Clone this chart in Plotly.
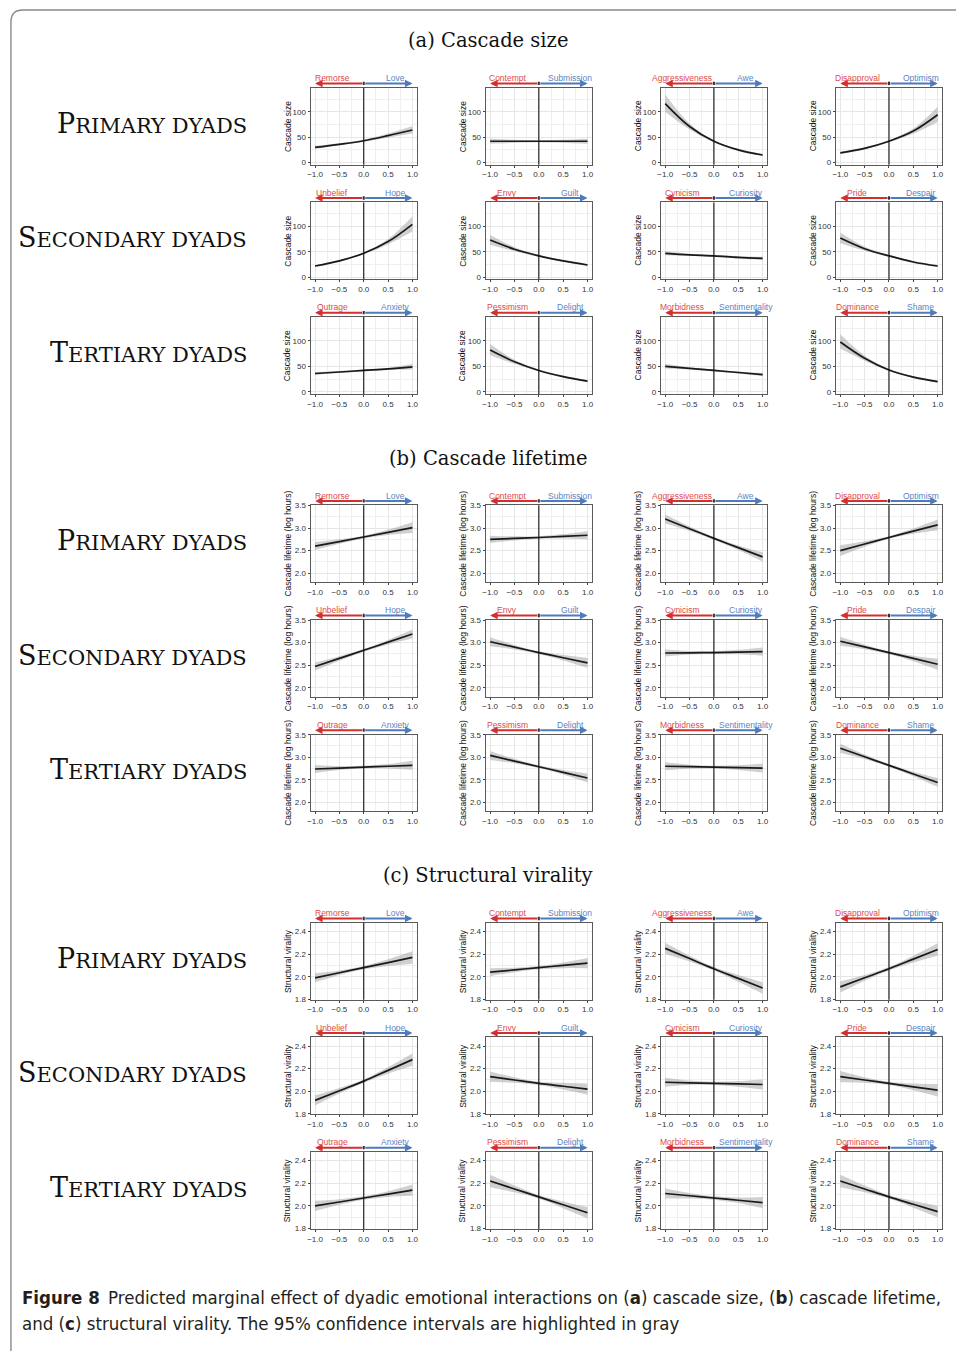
import plotly.graph_objects as go

# ---------------- data ----------------
X_POS = [-1.0, -0.5, 0.0, 0.5, 1.0]
X_TICKS = [-1.0, -0.5, 0.0, 0.5, 1.0]
X_TICK_TEXT = ["\u22121.0", "\u22120.5", "0.0", "0.5", "1.0"]
X_MINOR = [-0.75, -0.25, 0.25, 0.75]

LEFT_EMOTIONS = ["Remorse", "Contempt", "Aggressiveness", "Disapproval",
                 "Unbelief", "Envy", "Cynicism", "Pride",
                 "Outrage", "Pessimism", "Morbidness", "Dominance"]
RIGHT_EMOTIONS = ["Love", "Submission", "Awe", "Optimism",
                  "Hope", "Guilt", "Curiosity", "Despair",
                  "Anxiety", "Delight", "Sentimentality", "Shame"]

ROW_LABELS = [("P", "RIMARY DYADS"), ("S", "ECONDARY DYADS"), ("T", "ERTIARY DYADS")]
SECTION_TITLES = ["(a) Cascade size", "(b) Cascade lifetime", "(c) Structural virality"]
Y_TITLES = ["Cascade size", "Cascade lifetime (log hours)", "Structural virality"]
Y_TICKS = [[0, 50, 100], [2.0, 2.5, 3.0, 3.5], [1.8, 2.0, 2.2, 2.4]]
Y_TICK_TEXT = [["0", "50", "100"], ["2.0", "2.5", "3.0", "3.5"], ["1.8", "2.0", "2.2", "2.4"]]
Y_MINOR = [[25, 75, 125], [2.25, 2.75, 3.25], [1.9, 2.1, 2.3]]
Y_RANGES = [[-4, 147], [1.80, 3.503], [1.797, 2.476]]

# (a) cascade size: fit, lower and upper 95% CI at X_POS
SIZE_FIT = [
    [30, 36, 43, 53, 64], [42, 42, 42, 42, 42], [116, 71, 42, 25, 15], [19, 28, 42, 62, 94],
    [22, 32, 47, 70, 104], [73, 55, 42, 32, 24], [47, 44, 42, 39, 37], [77, 56, 42, 30, 22],
    [36, 39, 42, 45, 49], [82, 59, 42, 30, 21], [50, 46, 42, 38, 34], [98, 66, 43, 29, 20],
]
SIZE_LO = [
    [27, 34, 41, 49, 57], [37, 39, 40, 39, 37], [100, 65, 40, 23, 13], [17, 26, 40, 57, 80],
    [20, 30, 45, 65, 90], [64, 51, 40, 30, 22], [43, 42, 40, 37, 34], [67, 52, 40, 28, 20],
    [33, 37, 40, 43, 44], [72, 55, 40, 28, 19], [46, 44, 40, 36, 31], [85, 61, 41, 27, 18],
]
SIZE_HI = [
    [33, 38, 45, 57, 72], [47, 45, 44, 45, 47], [134, 77, 44, 27, 17], [21, 30, 44, 67, 110],
    [24, 34, 49, 75, 120], [83, 59, 44, 34, 26], [51, 46, 44, 41, 40], [88, 60, 44, 32, 24],
    [39, 41, 44, 47, 55], [94, 63, 44, 32, 23], [55, 48, 44, 40, 37], [113, 71, 45, 31, 22],
]

# (b) cascade lifetime: fit and CI half-width at X_POS
LIFE_FIT = [
    [2.60, 2.70, 2.80, 2.905, 3.01], [2.75, 2.77, 2.79, 2.815, 2.84],
    [3.20, 2.985, 2.77, 2.565, 2.36], [2.50, 2.645, 2.79, 2.93, 3.07],
    [2.47, 2.65, 2.83, 3.01, 3.19], [3.02, 2.90, 2.78, 2.665, 2.55],
    [2.77, 2.775, 2.78, 2.79, 2.80], [3.03, 2.905, 2.78, 2.65, 2.52],
    [2.74, 2.76, 2.78, 2.80, 2.82], [3.04, 2.915, 2.79, 2.665, 2.54],
    [2.80, 2.79, 2.78, 2.77, 2.76], [3.20, 3.01, 2.82, 2.63, 2.44],
]
LIFE_ERR = [
    [0.09, 0.05, 0.03, 0.06, 0.12], [0.08, 0.045, 0.03, 0.05, 0.09],
    [0.10, 0.05, 0.03, 0.05, 0.10], [0.12, 0.06, 0.03, 0.06, 0.12],
    [0.09, 0.05, 0.03, 0.05, 0.10], [0.10, 0.05, 0.03, 0.06, 0.11],
    [0.08, 0.04, 0.03, 0.05, 0.09], [0.10, 0.05, 0.03, 0.06, 0.12],
    [0.09, 0.045, 0.03, 0.05, 0.10], [0.10, 0.05, 0.03, 0.05, 0.10],
    [0.09, 0.045, 0.03, 0.05, 0.10], [0.10, 0.05, 0.03, 0.05, 0.10],
]

# (c) structural virality: fit and CI half-width at X_POS
VIR_FIT = [
    [1.99, 2.035, 2.08, 2.125, 2.17], [2.04, 2.06, 2.08, 2.10, 2.12],
    [2.25, 2.16, 2.07, 1.985, 1.90], [1.91, 1.99, 2.07, 2.155, 2.24],
    [1.92, 2.005, 2.09, 2.185, 2.28], [2.13, 2.10, 2.07, 2.045, 2.02],
    [2.08, 2.075, 2.07, 2.065, 2.06], [2.13, 2.10, 2.07, 2.04, 2.01],
    [2.00, 2.035, 2.07, 2.105, 2.14], [2.22, 2.15, 2.08, 2.01, 1.94],
    [2.11, 2.09, 2.07, 2.05, 2.03], [2.22, 2.15, 2.08, 2.015, 1.95],
]
VIR_ERR = [
    [0.04, 0.02, 0.015, 0.03, 0.055], [0.035, 0.02, 0.015, 0.025, 0.045],
    [0.05, 0.025, 0.015, 0.03, 0.05], [0.05, 0.025, 0.015, 0.03, 0.055],
    [0.045, 0.025, 0.015, 0.03, 0.055], [0.045, 0.025, 0.015, 0.03, 0.05],
    [0.04, 0.02, 0.015, 0.025, 0.045], [0.05, 0.025, 0.015, 0.03, 0.055],
    [0.045, 0.025, 0.015, 0.025, 0.05], [0.055, 0.03, 0.015, 0.03, 0.05],
    [0.045, 0.025, 0.015, 0.025, 0.05], [0.055, 0.03, 0.015, 0.03, 0.05],
]

CAPTION_1 = ("<b>Figure 8</b>\u2002Predicted marginal effect of dyadic emotional interactions on "
             "(<b>a</b>) cascade size, (<b>b</b>) cascade lifetime,")
CAPTION_2 = ("and (<b>c</b>) structural virality. The 95% confidence intervals are highlighted in gray")

# ---------------- style / layout ----------------
W, H = 956, 1351
COL_LEFT = [309.3, 485.3, 661.3, 837.3]
PANEL_W = 106.7
PANEL_H = 77.3
ROW_TOP0 = 84.3
ROW_STEP = 115.3
SECTION_STEP = 420.0

RED_LINE, RED_TEXT = "#d42f2f", "#dc4b4b"
BLUE_LINE, BLUE_TEXT = "#4f7bbd", "#5b84c3"
SANS = "Liberation Sans, Arial, sans-serif"
SERIF = "DejaVu Serif, serif"

section_lo = [SIZE_LO,
              [[f - e for f, e in zip(fr, er)] for fr, er in zip(LIFE_FIT, LIFE_ERR)],
              [[f - e for f, e in zip(fr, er)] for fr, er in zip(VIR_FIT, VIR_ERR)]]
section_hi = [SIZE_HI,
              [[f + e for f, e in zip(fr, er)] for fr, er in zip(LIFE_FIT, LIFE_ERR)],
              [[f + e for f, e in zip(fr, er)] for fr, er in zip(VIR_FIT, VIR_ERR)]]
section_fit = [SIZE_FIT, LIFE_FIT, VIR_FIT]

fig = go.Figure()
axes = {}
annotations = []
shapes = []

for s in range(3):
    for r in range(3):
        for c in range(4):
            p = r * 4 + c
            k = s * 12 + p + 1
            xa = "x" if k == 1 else f"x{k}"
            ya = "y" if k == 1 else f"y{k}"
            left = COL_LEFT[c]
            top = ROW_TOP0 + r * ROW_STEP + s * SECTION_STEP
            xdom = [left / W, (left + PANEL_W) / W]
            ydom = [1 - (top + PANEL_H) / H, 1 - top / H]

            fig.add_trace(go.Scatter(x=X_POS, y=section_lo[s][p], mode="lines",
                                     line=dict(width=0, shape="spline"),
                                     xaxis=xa, yaxis=ya, hoverinfo="skip", showlegend=False))
            fig.add_trace(go.Scatter(x=X_POS, y=section_hi[s][p], mode="lines",
                                     line=dict(width=0, shape="spline"), fill="tonexty",
                                     fillcolor="rgba(150,150,150,0.45)",
                                     xaxis=xa, yaxis=ya, hoverinfo="skip", showlegend=False))
            fig.add_trace(go.Scatter(x=X_POS, y=section_fit[s][p], mode="lines",
                                     line=dict(width=1.7, color="#1a1a1a", shape="spline"),
                                     xaxis=xa, yaxis=ya, showlegend=False))

            common = dict(showline=True, mirror=True, linecolor="#5a5a5a", linewidth=1.2,
                          ticks="outside", ticklen=2, tickwidth=1, tickcolor="#444",
                          tickfont=dict(family=SANS, size=8, color="#333"),
                          showgrid=True, gridcolor="#e6e6e6", gridwidth=1,
                          zeroline=False, fixedrange=True)
            axes["xaxis" if k == 1 else f"xaxis{k}"] = dict(
                domain=xdom, anchor=ya, range=[-1.09, 1.09],
                tickmode="array", tickvals=X_TICKS, ticktext=X_TICK_TEXT,
                minor=dict(tickmode="array", tickvals=X_MINOR, showgrid=True,
                           gridcolor="#efefef", gridwidth=0.7, ticks=""),
                **common)
            axes["yaxis" if k == 1 else f"yaxis{k}"] = dict(
                domain=ydom, anchor=xa, range=Y_RANGES[s],
                tickmode="array", tickvals=Y_TICKS[s], ticktext=Y_TICK_TEXT[s],
                minor=dict(tickmode="array", tickvals=Y_MINOR[s], showgrid=True,
                           gridcolor="#efefef", gridwidth=0.7, ticks=""),
                **common)

            # vertical reference line at 0
            shapes.append(dict(type="line", xref=xa, yref=f"{ya} domain",
                               x0=0, x1=0, y0=0, y1=1,
                               line=dict(color="#111", width=1.1), layer="above"))
            # small dark tick at arrow origin
            shapes.append(dict(type="line", xref=xa, yref=f"{ya} domain",
                               x0=0, x1=0, y0=1.035, y1=1.08,
                               line=dict(color="#333", width=2), layer="above"))
            # arrows
            annotations.append(dict(x=-1, y=1.057, xref=xa, yref=f"{ya} domain",
                                    ax=0, ay=0, axref=xa, ayref="pixel", text="",
                                    showarrow=True, arrowhead=2, arrowsize=0.75,
                                    arrowwidth=2, arrowcolor=RED_LINE))
            annotations.append(dict(x=1, y=1.057, xref=xa, yref=f"{ya} domain",
                                    ax=0, ay=0, axref=xa, ayref="pixel", text="",
                                    showarrow=True, arrowhead=2, arrowsize=0.75,
                                    arrowwidth=2, arrowcolor=BLUE_LINE))
            # emotion labels
            annotations.append(dict(x=-0.65, y=1.035, xref=xa, yref=f"{ya} domain",
                                    text=LEFT_EMOTIONS[p], showarrow=False,
                                    xanchor="center", yanchor="bottom",
                                    font=dict(family=SANS, size=8.5, color=RED_TEXT)))
            annotations.append(dict(x=0.65, y=1.035, xref=xa, yref=f"{ya} domain",
                                    text=RIGHT_EMOTIONS[p], showarrow=False,
                                    xanchor="center", yanchor="bottom",
                                    font=dict(family=SANS, size=8.5, color=BLUE_TEXT)))
            # y-axis title
            annotations.append(dict(x=-0.215, y=0.5, xref=f"{xa} domain", yref=f"{ya} domain",
                                    text=Y_TITLES[s], showarrow=False, textangle=-90,
                                    xanchor="center", yanchor="middle",
                                    font=dict(family=SANS, size=8.5, color="#111")))

        # row label (small caps)
        top = ROW_TOP0 + r * ROW_STEP + s * SECTION_STEP
        big, small = ROW_LABELS[r]
        annotations.append(dict(x=247 / W, y=1 - (top + PANEL_H / 2 - 3) / H,
                                xref="paper", yref="paper",
                                text=f"{big}<span style='font-size:21px'>{small}</span>",
                                showarrow=False, xanchor="right", yanchor="middle",
                                font=dict(family=SERIF, size=27, color="#111")))

    # section title
    annotations.append(dict(x=488 / W, y=1 - (37 + s * SECTION_STEP) / H,
                            xref="paper", yref="paper", text=SECTION_TITLES[s],
                            showarrow=False, xanchor="center", yanchor="middle",
                            font=dict(family=SERIF, size=19.5, color="#111")))

# caption
CAP_FONT = dict(family="Liberation Sans Narrow, DejaVu Sans Condensed, Liberation Sans, sans-serif",
                size=18.5, color="#231f20")
annotations.append(dict(x=17 / W, y=1 - 1301 / H, xref="paper", yref="paper",
                        text=CAPTION_1, showarrow=False, xanchor="left", yanchor="middle",
                        font=CAP_FONT))
annotations.append(dict(x=17 / W, y=1 - 1327 / H, xref="paper", yref="paper",
                        text=CAPTION_2, showarrow=False, xanchor="left", yanchor="middle",
                        font=CAP_FONT))

# frame with rounded top-left corner
x8, r0 = 8 / W, 20 / W
shapes.append(dict(type="path", xref="paper", yref="paper", layer="below",
                   path=(f"M 1.02,{1 - 6 / H} L {r0},{1 - 6 / H} "
                         f"Q {x8},{1 - 6 / H} {x8},{1 - 18 / H} L {x8},-0.01"),
                   line=dict(color="#8a8a8a", width=1.4)))

fig.update_layout(width=W, height=H, margin=dict(l=0, r=0, t=0, b=0),
                  paper_bgcolor="white", plot_bgcolor="white",
                  showlegend=False, annotations=annotations, shapes=shapes, **axes)

fig.write_html("out.html")
